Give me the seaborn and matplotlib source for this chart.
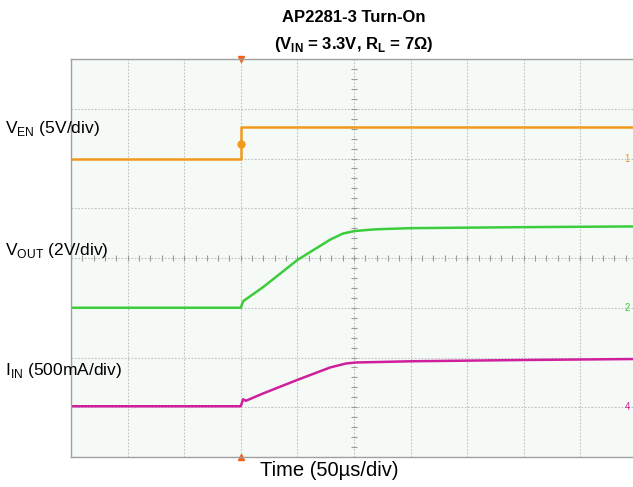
import numpy as np
import pandas as pd
import matplotlib
matplotlib.use("Agg")
import matplotlib.pyplot as plt
import seaborn as sns

# time relative to EN trigger (us), 50us/div, screen spans -150..350us
time_en = [-150, 0, 0, 350]
ven_v = [0.0, 0.0, 3.2, 3.2]

time_out = [-150, 0, 2, 20, 50, 79, 90, 100, 115, 123, 150, 250, 350]
vout_v = [0.0, 0.0, 0.26, 0.84, 1.92, 2.74, 2.98, 3.08, 3.14, 3.16, 3.20, 3.24, 3.27]

time_in = [-150, 0, 2, 4.5, 20, 50, 79, 93, 102, 123, 150, 250, 350]
iin_ma = [10, 10, 80, 65, 140, 275, 400, 440, 450, 455, 462, 475, 485]

# channel settings: (volts or mA per div, ground position in div)
CH_EN = (5.0, 6.0)
CH_OUT = (2.0, 3.0)
CH_IN = (500.0, 1.0)

COL_EN = "#f0991c"
COL_OUT = "#3ccc3c"
COL_IN = "#cf1f9c"
TRIG = "#f2601a"

sns.set_theme(style="white")
plt.rcParams["font.family"] = ["Liberation Sans", "DejaVu Sans"]
plt.rcParams["text.color"] = "black"
plt.rcParams["mathtext.fontset"] = "custom"
plt.rcParams["mathtext.rm"] = "Liberation Sans"
plt.rcParams["mathtext.bf"] = "Liberation Sans:bold"


def to_div(vals, ch):
    scale, gnd = ch
    return [gnd + v / scale for v in vals]


fig = plt.figure(figsize=(6.33, 4.87), dpi=100)
ax = fig.add_axes([71 / 633, 30 / 487, 566 / 633, 398 / 487])
ax.set_facecolor("#f5faf7")

ax.set_xlim(-150, 350)
ax.set_ylim(0, 8)
ax.set_xticks(np.arange(-150, 351, 50))
ax.set_yticks(np.arange(0, 9, 1))
ax.grid(True, color="#c0c0c0", linestyle=(0, (1.5, 1.5)), linewidth=0.8)
ax.tick_params(left=False, bottom=False, labelleft=False, labelbottom=False)
for side, sp in ax.spines.items():
    sp.set_color("#a0a0a0")
    sp.set_linewidth(1.0)
ax.spines["right"].set_visible(False)

# centre crosshair minor ticks
mx = np.arange(-150, 351, 10)
ax.plot(mx, np.full_like(mx, 4.0, dtype=float), linestyle="none", marker="|",
        markersize=4, color="#9a9a9a", markeredgewidth=0.8)
my = np.arange(0, 8.01, 0.2)
ax.plot(np.full_like(my, 100.0), my, linestyle="none", marker="_",
        markersize=4, color="#9a9a9a", markeredgewidth=0.8)

df_en = pd.DataFrame({"t": time_en, "y": to_div(ven_v, CH_EN)})
df_out = pd.DataFrame({"t": time_out, "y": to_div(vout_v, CH_OUT)})
df_in = pd.DataFrame({"t": time_in, "y": to_div(iin_ma, CH_IN)})

sns.lineplot(data=df_en, x="t", y="y", ax=ax, color=COL_EN, linewidth=1.8,
             sort=False, estimator=None)
sns.lineplot(data=df_out, x="t", y="y", ax=ax, color=COL_OUT, linewidth=1.8,
             sort=False, estimator=None)
sns.lineplot(data=df_in, x="t", y="y", ax=ax, color=COL_IN, linewidth=1.8,
             sort=False, estimator=None)
ax.set_xlabel("")
ax.set_ylabel("")

# trigger markers
ax.plot([0], [6.3], marker="o", markersize=5, color=COL_EN, clip_on=False)
ax.plot([0], [8.0], marker="v", markersize=4, color=TRIG, clip_on=False)
ax.plot([0], [0.0], marker="^", markersize=4, color=TRIG, clip_on=False)

# channel ground markers at right edge
for txt, ch, col in [("1", CH_EN, COL_EN), ("2", CH_OUT, COL_OUT), ("4", CH_IN, COL_IN)]:
    ax.text(339, ch[1], txt, color=col, fontsize=7, va="center", ha="left")

fig.text(354 / 633, 1 - 18 / 487, "AP2281-3 Turn-On", ha="center", va="center",
         fontsize=12, fontweight="bold")
fig.text(354 / 633, 1 - 45 / 487,
         r"(V$_{\mathbf{IN}}$ = 3.3V, R$_{\mathbf{L}}$ = 7Ω)",
         ha="center", va="center", fontsize=12, fontweight="bold")

fig.text(5 / 633, 1 - 128 / 487, r"V$_{\rm EN}$ (5V/div)", ha="left",
         va="center", fontsize=12.5)
fig.text(5 / 633, 1 - 250 / 487, r"V$_{\rm OUT}$ (2V/div)", ha="left",
         va="center", fontsize=12.5)
fig.text(5 / 633, 1 - 370 / 487, r"I$_{\rm IN}$ (500mA/div)", ha="left",
         va="center", fontsize=12.5)

fig.text(329 / 633, 1 - 470 / 487, "Time (50µs/div)", ha="center",
         va="center", fontsize=14.5)

fig.savefig("out.png", dpi=100)
